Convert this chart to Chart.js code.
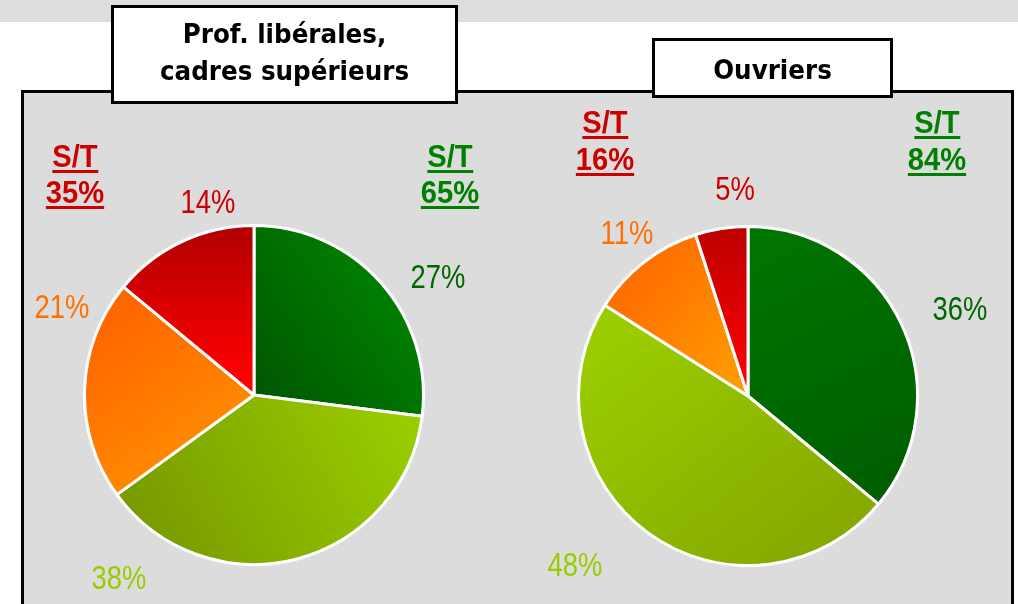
<!DOCTYPE html>
<html>
<head>
<meta charset="utf-8">
<script src="https://cdn.jsdelivr.net/npm/chart.js@4/dist/chart.umd.min.js"></script>
<style>
  html, body { margin:0; padding:0; background:#ffffff; width:1018px; height:604px; overflow:hidden; position:relative; }
  .band { position:absolute; left:0; top:0; width:1018px; height:22px; background:#dddddd; }
  .panel { position:absolute; left:21px; top:90px; width:987px; height:600px; background:#dcdcdc; border:3px solid #000; }
  .tbox { position:absolute; background:#fff; border:3px solid #000; box-sizing:border-box; }
  .pie { position:absolute; }
  svg.overlay { position:absolute; left:0; top:0; pointer-events:none; }
</style>
</head>
<body>
<div class="band"></div>
<div class="panel"></div>
<div class="tbox" style="left:111px;top:5px;width:347px;height:99px;"></div>
<div class="tbox" style="left:652px;top:38px;width:241px;height:60px;"></div>
<canvas id="pie1" class="pie" width="342" height="342" style="left:83px;top:224px;"></canvas>
<canvas id="pie2" class="pie" width="342" height="342" style="left:577px;top:225px;"></canvas>
<svg class="overlay" id="ov" width="1018" height="604" xmlns="http://www.w3.org/2000/svg"></svg>
<script>
// ---- data ----
const categories = ['Vert foncé', 'Vert clair', 'Orange', 'Rouge'];
const titles1 = ['Prof. libérales,', 'cadres supérieurs'];
const titles2 = ['Ouvriers'];
const values1 = [27, 38, 21, 14];
const values2 = [36, 48, 11, 5];
const satisfied1 = 65;   // S/T vert
const unsatisfied1 = 35; // S/T rouge
const satisfied2 = 84;
const unsatisfied2 = 16;
const stLabel = 'S/T';

// ---- styles ----
const labelColors = ['#006600', '#99cc00', '#ff7000', '#cc0000'];
const grad1 = [
  {a:[-0.25,0.25], b:[0.9,-0.6], c:['#004800','#008200']},
  {a:[-0.7,0.9],  b:[0.85,0.05], c:['#779800','#9acd00']},
  {a:[-0.8,-0.4], b:[-0.1,0.6],  c:['#ff6800','#ff9800']},
  {a:[0,-1],      b:[0,-0.1],    c:['#b00000','#ff0000']}
];
const grad2 = [
  {a:[0.1,-0.9], b:[0.8,0.6],   c:['#007400','#005e00']},
  {a:[-0.8,-0.3], b:[0.2,1.0],  c:['#9acc00','#86aa00']},
  {a:[-0.8,-0.6], b:[-0.1,0.0], c:['#ff6c00','#ff9c00']},
  {a:[0,-1],      b:[0,-0.1],   c:['#bb0000','#ff0000']}
];

function makeBg(specs) {
  return function(ctx) {
    const chart = ctx.chart;
    const area = chart.chartArea;
    if (!area) return specs[ctx.dataIndex].c[1];
    const cx = (area.left + area.right) / 2, cy = (area.top + area.bottom) / 2;
    const r = Math.min(area.right - area.left, area.bottom - area.top) / 2;
    const s = specs[ctx.dataIndex];
    const g = chart.ctx.createLinearGradient(cx + s.a[0]*r, cy + s.a[1]*r, cx + s.b[0]*r, cy + s.b[1]*r);
    g.addColorStop(0, s.c[0]);
    g.addColorStop(1, s.c[1]);
    return g;
  };
}

function makePie(id, values, specs) {
  return new Chart(document.getElementById(id), {
    type: 'pie',
    data: {
      labels: categories,
      datasets: [{
        data: values,
        backgroundColor: makeBg(specs),
        borderColor: '#ffffff',
        borderWidth: 3
      }]
    },
    options: {
      responsive: false,
      animation: false,
      events: [],
      layout: { padding: 0 },
      plugins: { legend: { display:false }, tooltip: { enabled:false } }
    }
  });
}
makePie('pie1', values1, grad1);
makePie('pie2', values2, grad2);

// ---- text overlay (real SVG text) ----
const NS = 'http://www.w3.org/2000/svg';
const ov = document.getElementById('ov');
function addText(str, x, y, opts) {
  const g = document.createElementNS(NS, 'g');
  g.setAttribute('transform', `translate(${x},${y}) scale(${opts.sx || 1},1)`);
  const t = document.createElementNS(NS, 'text');
  t.setAttribute('x', 0); t.setAttribute('y', 0);
  t.setAttribute('text-anchor', 'middle');
  t.setAttribute('font-family', opts.family || 'Liberation Sans, Arial, sans-serif');
  t.setAttribute('font-size', opts.size);
  t.setAttribute('font-weight', opts.weight || 'normal');
  t.setAttribute('fill', opts.color);
  t.textContent = str;
  g.appendChild(t);
  ov.appendChild(g);
  if (opts.underline) {
    const bb = t.getBBox();
    const r = document.createElementNS(NS, 'rect');
    r.setAttribute('x', bb.x); r.setAttribute('y', 3);
    r.setAttribute('width', bb.width); r.setAttribute('height', 3);
    r.setAttribute('fill', opts.color);
    g.appendChild(r);
  }
}

const titleStyle = {family:'DejaVu Sans, sans-serif', size:26.5, weight:'bold', color:'#000', sx:0.93};
addText(titles1[0], 284.5, 43, titleStyle);
addText(titles1[1], 284.5, 80, titleStyle);
addText(titles2[0], 772.5, 79, titleStyle);

const pctStyle = (i) => ({size:33, color:labelColors[i], sx:0.83});
// pie 1 labels
const pos1 = [[438,288],[119,589],[62,318],[208,213]];
values1.forEach((v,i) => addText(v + '%', pos1[i][0], pos1[i][1], pctStyle(i)));
// pie 2 labels
const pos2 = [[960,320],[575,576],[627,244],[735,200]];
values2.forEach((v,i) => addText(v + '%', pos2[i][0], pos2[i][1], pctStyle(i)));

const stRed = {size:31, weight:'bold', color:'#cc0000', sx:0.94, underline:true};
const stGreen = {size:31, weight:'bold', color:'#008000', sx:0.94, underline:true};
addText(stLabel, 75, 167, stRed);
addText(unsatisfied1 + '%', 75, 203, stRed);
addText(stLabel, 450, 167, stGreen);
addText(satisfied1 + '%', 450, 203, stGreen);
addText(stLabel, 605, 133, stRed);
addText(unsatisfied2 + '%', 605, 170, stRed);
addText(stLabel, 937, 133, stGreen);
addText(satisfied2 + '%', 937, 170, stGreen);
</script>
</body>
</html>
